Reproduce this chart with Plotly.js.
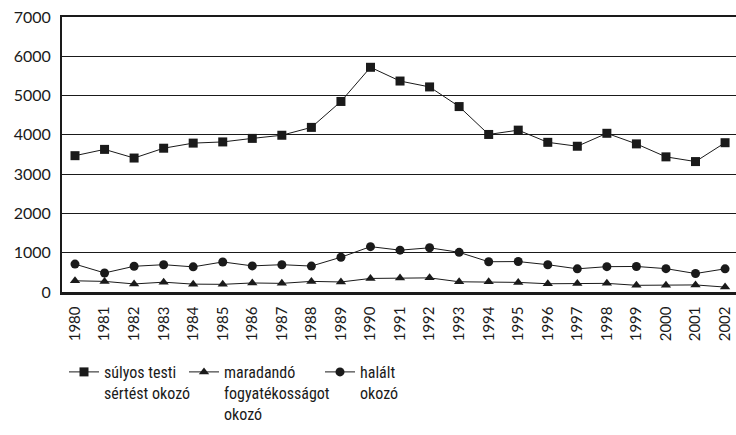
<!DOCTYPE html>
<html>
<head>
<meta charset="utf-8">
<script src="https://cdn.plot.ly/plotly-3.0.1.min.js"></script>
<style>html,body{margin:0;padding:0;background:#fff;}#chart{width:736px;height:435px;}</style>
</head>
<body>
<div id="chart"></div>
<script>
const years = ["1980","1981","1982","1983","1984","1985","1986","1987","1988","1989","1990","1991","1992","1993","1994","1995","1996","1997","1998","1999","2000","2001","2002"];
const sulyos = [3470,3630,3410,3660,3790,3820,3910,3990,4190,4850,5720,5370,5220,4720,4010,4120,3810,3710,4040,3770,3440,3320,3800];
const maradando = [285,270,205,250,200,195,230,220,270,255,345,355,360,260,260,245,210,215,220,170,175,180,125];
const halalt = [710,485,655,695,640,765,665,695,660,885,1155,1065,1125,1010,770,775,695,590,645,650,595,470,590];
const yTicks = [0,1000,2000,3000,4000,5000,6000,7000];
const names = ["súlyos testi<br>sértést okozó","maradandó<br>fogyatékosságot<br>okozó","halált<br>okozó"];

const FONT = "Lato, 'DejaVu Sans', sans-serif";
const LFONT = "'Liberation Sans Narrow', 'Roboto Condensed', Lato, sans-serif";
const ink = "#1a1a1a";

const traces = [
  {x: years, y: sulyos, name: names[0], legend: "legend", mode: "lines+markers", type: "scatter",
   line: {color: ink, width: 1}, marker: {symbol: "square", size: 9, color: ink}},
  {x: years, y: maradando, name: names[1], legend: "legend2", mode: "lines+markers", type: "scatter",
   line: {color: ink, width: 1}, marker: {symbol: "triangle-up", size: 9, color: ink}},
  {x: years, y: halalt, name: names[2], legend: "legend3", mode: "lines+markers", type: "scatter",
   line: {color: ink, width: 1}, marker: {symbol: "circle", size: 9, color: ink}}
];

function leg(px) {
  return {x: px/736, xref: "container", y: 1 - 355/435, yref: "container",
          xanchor: "left", yanchor: "top", valign: "top", orientation: "v",
          bgcolor: "rgba(0,0,0,0)", borderwidth: 0,
          font: {family: LFONT, size: 16, color: ink}};
}

const layout = {
  width: 736, height: 435,
  margin: {l: 62, r: 0, t: 17, b: 143, autoexpand: false},
  paper_bgcolor: "#fff", plot_bgcolor: "#fff",
  font: {family: FONT, color: ink},
  showlegend: true,
  legend: leg(64), legend2: leg(184), legend3: leg(320),
  xaxis: {type: "category", range: [-0.44, 22.37], tickangle: -90,
          tickmode: "array", tickvals: years, ticktext: years,
          showline: true, linecolor: ink, linewidth: 2.5, mirror: true,
          showgrid: false, ticks: "", ticklabelstandoff: 6,
          tickfont: {family: FONT, size: 15, color: ink}},
  yaxis: {range: [0, 7000], tickvals: yTicks, ticktext: yTicks.map(String),
          showline: true, linecolor: ink, linewidth: 2,
          showgrid: true, gridcolor: ink, gridwidth: 1, zeroline: false,
          ticks: "", ticklabelstandoff: 6,
          tickfont: {family: FONT, size: 16, color: ink}}
};

Plotly.newPlot("chart", traces, layout, {displayModeBar: false, staticPlot: true});
</script>
</body>
</html>
